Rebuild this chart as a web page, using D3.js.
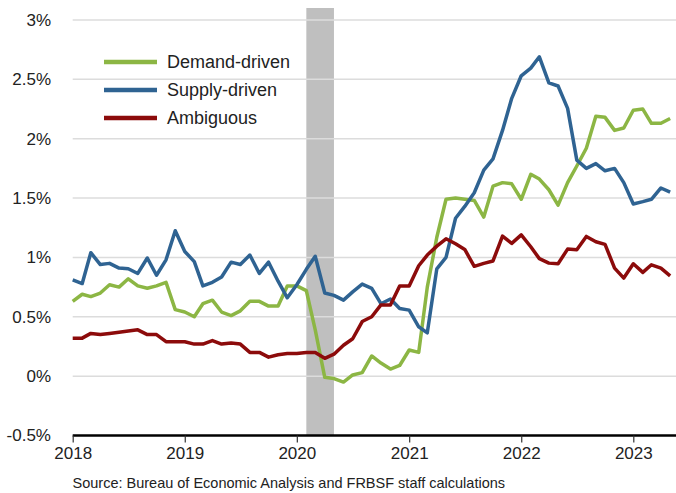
<!DOCTYPE html>
<html>
<head>
<meta charset="utf-8">
<script src="https://cdn.jsdelivr.net/npm/d3@7"></script>
<style>
  body { margin: 0; background: #fff; }
  svg { display: block; font-family: "Liberation Sans", Arial, sans-serif; }
</style>
</head>
<body>
<svg id="chart"></svg>
<script>
// monthly values, Jan 2018 .. May 2023 (percent)
var demand = [0.63,0.69,0.67,0.70,0.77,0.75,0.82,0.76,0.74,0.76,
              0.79,0.56,0.54,0.50,0.61,0.64,0.54,0.51,0.55,0.63,
              0.63,0.59,0.59,0.76,0.76,0.72,0.39,-0.01,-0.02,-0.05,
              0.01,0.03,0.17,0.11,0.06,0.09,0.22,0.20,0.75,1.17,
              1.49,1.50,1.49,1.48,1.34,1.60,1.63,1.62,1.49,1.70,
              1.66,1.57,1.44,1.63,1.77,1.92,2.19,2.18,2.07,2.09,
              2.24,2.25,2.13,2.13,2.17];
var supply = [0.81,0.78,1.04,0.94,0.95,0.91,0.905,0.865,0.995,0.85,
              0.98,1.225,1.05,0.965,0.76,0.79,0.835,0.96,0.94,1.02,
              0.865,0.96,0.80,0.66,0.77,0.90,1.01,0.70,0.68,0.64,
              0.71,0.775,0.74,0.61,0.65,0.57,0.556,0.416,0.365,0.904,
              1.0,1.33,1.43,1.545,1.736,1.83,2.07,2.34,2.53,2.595,
              2.69,2.47,2.444,2.256,1.82,1.75,1.79,1.73,1.75,1.63,
              1.45,1.47,1.49,1.585,1.55];
var ambiguous = [0.32,0.32,0.36,0.35,0.36,0.37,0.38,0.39,0.35,0.35,
                 0.29,0.29,0.29,0.27,0.27,0.30,0.27,0.28,0.27,0.20,
                 0.20,0.16,0.18,0.19,0.19,0.20,0.20,0.15,0.185,0.26,
                 0.315,0.46,0.50,0.60,0.60,0.76,0.76,0.93,1.02,1.095,
                 1.157,1.115,1.067,0.925,0.95,0.97,1.18,1.118,1.19,1.09,
                 0.99,0.952,0.947,1.07,1.065,1.177,1.132,1.11,0.91,0.826,
                 0.947,0.874,0.938,0.91,0.845];
var months = d3.timeMonth.range(new Date(2018, 0, 1), new Date(2023, 5, 1));
var yearTicks = [2018, 2019, 2020, 2021, 2022, 2023];
var yTicks = [-0.5, 0, 0.5, 1, 1.5, 2, 2.5, 3];
var recession = [new Date(2020, 1, 1), new Date(2020, 4, 1)];
var seriesNames = ["Demand-driven", "Supply-driven", "Ambiguous"];
var seriesColors = ["#8cb644", "#2f6392", "#8c0b0b"];
var source = "Source: Bureau of Economic Analysis and FRBSF staff calculations";

var width = 676, height = 493;
var svg = d3.select("#chart").attr("width", width).attr("height", height);

var x = d3.scaleTime()
  .domain([new Date(2018, 0, 1), new Date(2023, 0, 1)])
  .range([72.7, 633.3]);
var xEnd = 676;
var y = d3.scaleLinear().domain([-0.5, 3]).range([435.5, 20]);

// recession band
svg.append("rect")
  .attr("x", x(recession[0]))
  .attr("width", x(recession[1]) - x(recession[0]))
  .attr("y", 8)
  .attr("height", y(-0.5) - 8)
  .attr("fill", "#bfbfbf");

// gridlines
svg.append("g").selectAll("line")
  .data(yTicks.filter(d => d > -0.5))
  .enter().append("line")
  .attr("x1", x.range()[0]).attr("x2", xEnd)
  .attr("y1", d => y(d)).attr("y2", d => y(d))
  .attr("stroke", "#dcdcdc")
  .attr("stroke-width", 1.5);

// y labels
svg.append("g").selectAll("text")
  .data(yTicks)
  .enter().append("text")
  .attr("x", 51)
  .attr("y", d => y(d))
  .attr("dy", "0.35em")
  .attr("text-anchor", "end")
  .style("font-size", "17px")
  .style("fill", "#222")
  .text(d => d + "%");

// x axis
var xAxis = d3.axisBottom(x)
  .tickValues(yearTicks.map(d => new Date(d, 0, 1)))
  .tickFormat(d3.timeFormat("%Y"))
  .tickSize(7)
  .tickSizeOuter(0)
  .tickPadding(4);

var gx = svg.append("g")
  .attr("transform", "translate(0," + y(-0.5) + ")")
  .call(xAxis);
gx.select(".domain")
  .attr("d", "M" + x.range()[0] + ",0H" + xEnd)
  .attr("stroke", "#000")
  .attr("stroke-width", 2.5);
gx.selectAll(".tick line").attr("stroke", "#333").attr("stroke-width", 1.2);
gx.selectAll(".tick text")
  .style("font-size", "17px")
  .style("font-family", "'Liberation Sans', Arial, sans-serif")
  .style("fill", "#222");

// lines
var line = d3.line()
  .x((d, i) => x(months[i]))
  .y(d => y(d));

[demand, supply, ambiguous].forEach(function(s, k) {
  svg.append("path")
    .datum(s)
    .attr("fill", "none")
    .attr("stroke", seriesColors[k])
    .attr("stroke-width", 3.5)
    .attr("stroke-linejoin", "round")
    .attr("d", line);
});

// legend
var legend = svg.append("g").selectAll("g")
  .data(seriesNames)
  .enter().append("g")
  .attr("transform", (d, i) => "translate(0," + (62 + i * 28) + ")");
legend.append("line")
  .attr("x1", 104).attr("x2", 157)
  .attr("stroke", (d, i) => seriesColors[i])
  .attr("stroke-width", 4.5);
legend.append("text")
  .attr("x", 167)
  .attr("dy", "0.35em")
  .style("font-size", "18px")
  .style("fill", "#222")
  .text(d => d);

// source note
svg.append("text")
  .attr("x", 72.5)
  .attr("y", 488)
  .style("font-size", "14.5px")
  .style("fill", "#222")
  .text(source);
</script>
</body>
</html>
